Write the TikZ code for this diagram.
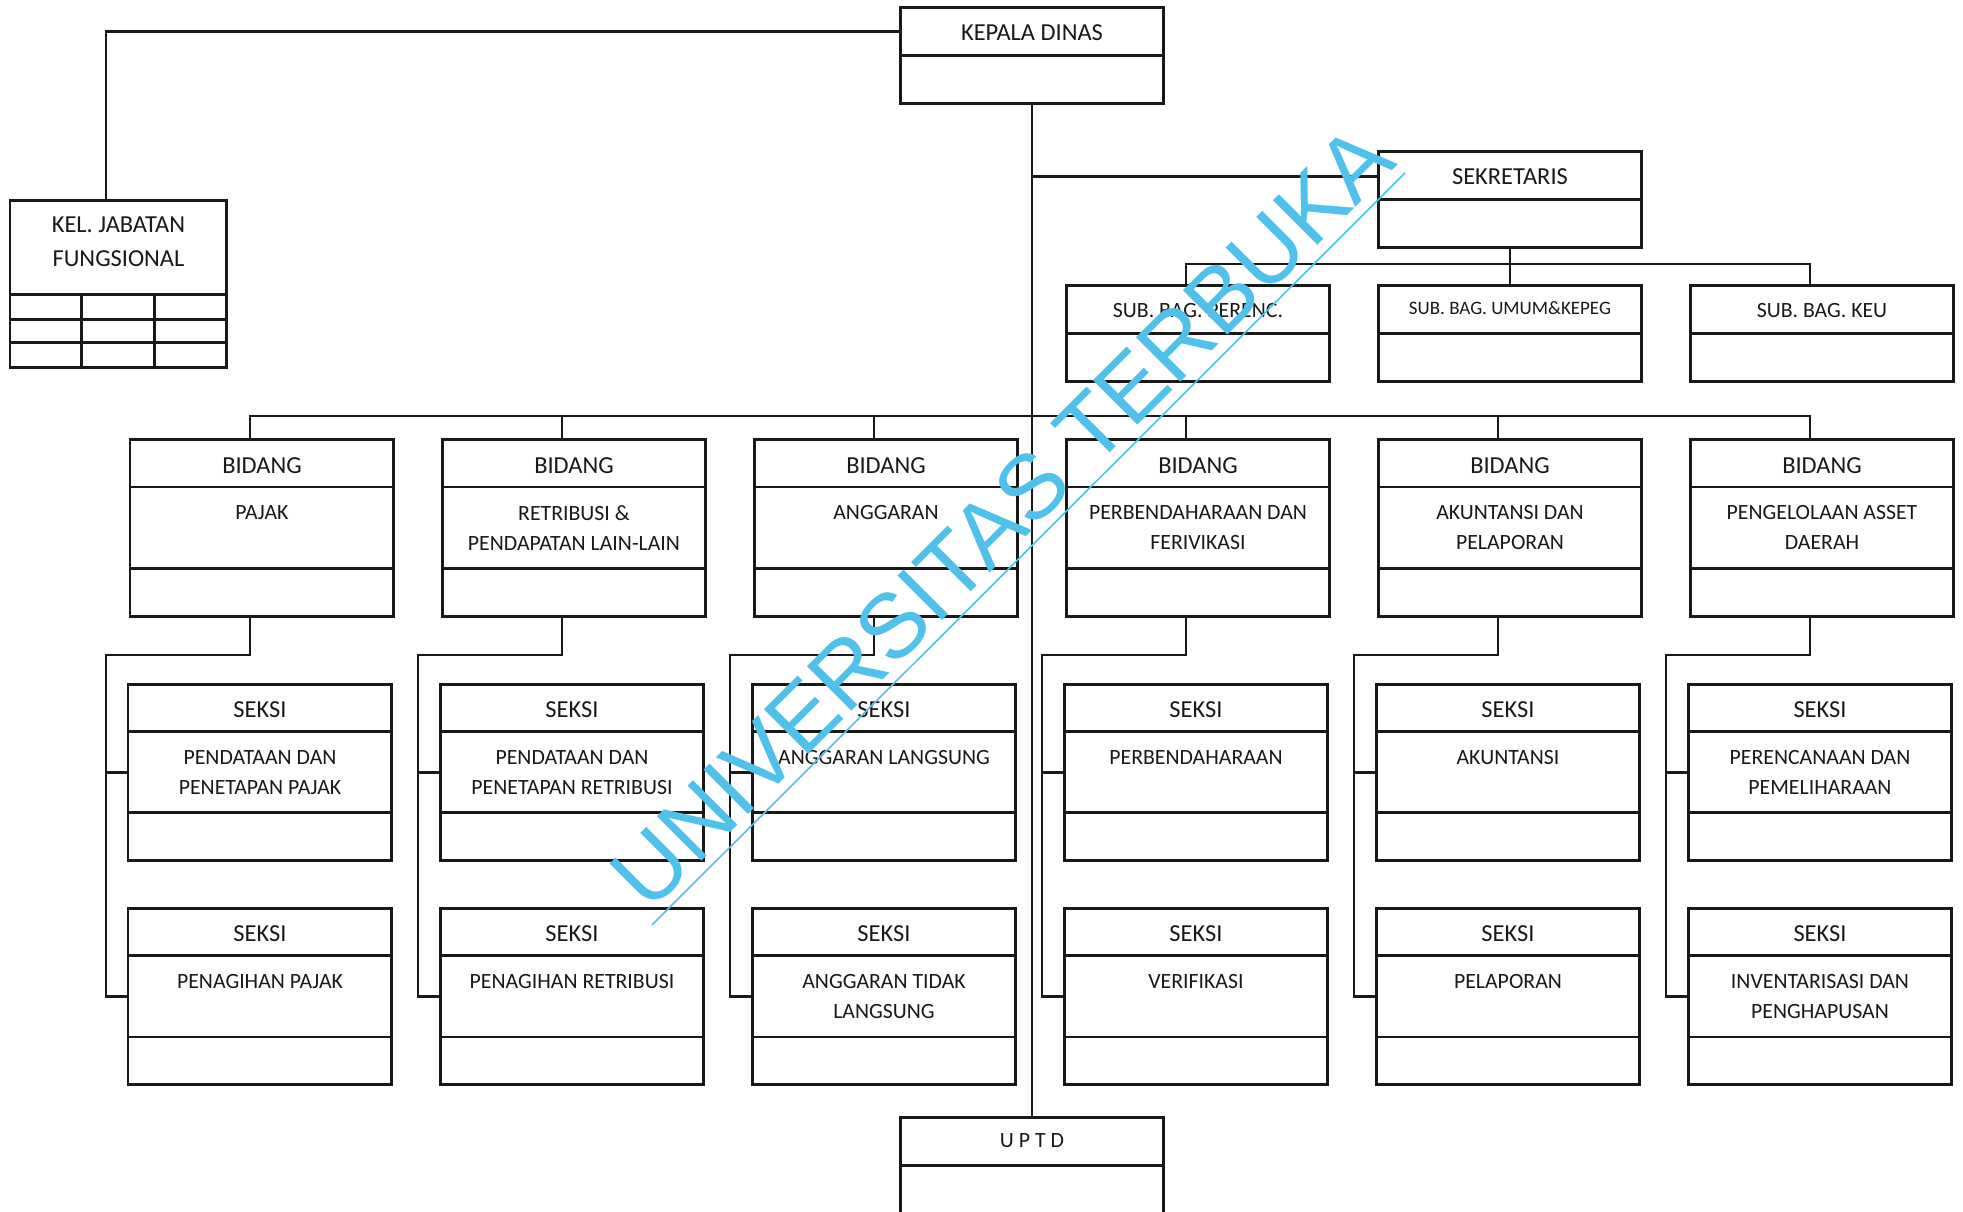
\documentclass[tikz,border=0pt]{standalone}
\usepackage{fontspec}
\setmainfont{Carlito}
\newfontfamily\wmfont{Liberation Sans}
\definecolor{wmblue}{RGB}{79,193,235}
\definecolor{ink}{RGB}{25,25,25}
\tikzset{
  box/.style={draw=ink, line width=1.7pt, rectangle, inner sep=0pt, outer sep=0pt, anchor=north west},
  boxline/.style={draw=ink, line width=1.7pt},
  conn/.style={draw=ink, line width=1.3pt},
  ttl/.style={font=\fontsize{13.9}{16}\selectfont, inner sep=0pt, text=ink},
  bdy/.style={font=\fontsize{12.4}{17}\selectfont, inner sep=0pt, align=center, text=ink},
  wmtext/.style={font=\wmfont\fontsize{52}{56}\selectfont, text=wmblue, inner sep=0pt},
}
% three-section box: name, left, top, title, body
\newcommand{\tribox}[5]{%
  \node[box, minimum width=5.28cm, minimum height=3.54cm] (#1) at (#2,#3) {};
  \draw[boxline] ([yshift=-0.95cm]#1.north west) -- ([yshift=-0.95cm]#1.north east);
  \draw[boxline] ([yshift=-2.58cm]#1.north west) -- ([yshift=-2.58cm]#1.north east);
  \node[ttl] (#1-t) at ([yshift=-0.52cm]#1.north) {#4};
  \node[bdy, anchor=north] (#1-b) at ([yshift=-1.32cm]#1.north) {#5};
}
% two-section box: name, left, top, title, title style
\newcommand{\duobox}[5]{%
  \node[box, minimum width=5.28cm, minimum height=1.93cm] (#1) at (#2,#3) {};
  \draw[boxline] ([yshift=-0.96cm]#1.north west) -- ([yshift=-0.96cm]#1.north east);
  \node[ttl, #5] (#1-t) at ([yshift=-0.51cm]#1.north) {#4};
}
\begin{document}
\begin{tikzpicture}[x=0.02cm, y=-0.02cm]
\useasboundingbox[fill=white] (0,0) rectangle (1963,1211);

% top level
\duobox{kepala}{900}{7.5}{KEPALA DINAS}{}
\duobox{sekr}{1378}{151.5}{SEKRETARIS}{}
\duobox{perenc}{1066}{285.5}{SUB. BAG. PERENC.}{font=\fontsize{12.4}{14}\selectfont}
\duobox{umum}{1378}{285.5}{SUB. BAG. UMUM\&KEPEG}{font=\fontsize{10.8}{13}\selectfont, yshift=0.05cm}
\duobox{keu}{1690}{285.5}{SUB. BAG. KEU}{font=\fontsize{12.4}{14}\selectfont}
\duobox{uptd}{900}{1117}{U P T D}{font=\fontsize{12.4}{14}\selectfont, yshift=0.03cm}

% kelompok jabatan fungsional
\node[box, minimum width=4.34cm, minimum height=3.36cm] (kel) at (10,200) {};
\draw[boxline] ([yshift=-1.9cm]kel.north west) -- ([yshift=-1.9cm]kel.north east);
\draw[boxline] ([yshift=-2.4cm]kel.north west) -- ([yshift=-2.4cm]kel.north east);
\draw[boxline] ([yshift=-2.86cm]kel.north west) -- ([yshift=-2.86cm]kel.north east);
\draw[boxline] ([xshift=1.44cm,yshift=-1.9cm]kel.north west) -- ([xshift=1.44cm]kel.south west);
\draw[boxline] ([xshift=2.9cm,yshift=-1.9cm]kel.north west) -- ([xshift=2.9cm]kel.south west);
\node[ttl, align=center, font=\fontsize{13.9}{19.3}\selectfont] (kel-t) at ([yshift=-0.84cm]kel.north) {KEL. JABATAN\\FUNGSIONAL};

% bidang
\tribox{b1}{130}{439.5}{BIDANG}{PAJAK}
\tribox{b2}{442}{439.5}{BIDANG}{RETRIBUSI \&\\PENDAPATAN LAIN-LAIN}
\tribox{b3}{754}{439.5}{BIDANG}{ANGGARAN}
\tribox{b4}{1066}{439.5}{BIDANG}{PERBENDAHARAAN DAN\\FERIVIKASI}
\tribox{b5}{1378}{439.5}{BIDANG}{AKUNTANSI DAN\\PELAPORAN}
\tribox{b6}{1690}{439.5}{BIDANG}{PENGELOLAAN ASSET\\DAERAH}

% seksi row 1
\tribox{s11}{128}{684}{SEKSI}{PENDATAAN DAN\\PENETAPAN PAJAK}
\tribox{s21}{440}{684}{SEKSI}{PENDATAAN DAN\\PENETAPAN RETRIBUSI}
\tribox{s31}{752}{684}{SEKSI}{ANGGARAN LANGSUNG}
\tribox{s41}{1064}{684}{SEKSI}{PERBENDAHARAAN}
\tribox{s51}{1376}{684}{SEKSI}{AKUNTANSI}
\tribox{s61}{1688}{684}{SEKSI}{PERENCANAAN DAN\\PEMELIHARAAN}
% seksi row 2
\tribox{s12}{128}{908}{SEKSI}{PENAGIHAN PAJAK}
\tribox{s22}{440}{908}{SEKSI}{PENAGIHAN RETRIBUSI}
\tribox{s32}{752}{908}{SEKSI}{ANGGARAN TIDAK\\LANGSUNG}
\tribox{s42}{1064}{908}{SEKSI}{VERIFIKASI}
\tribox{s52}{1376}{908}{SEKSI}{PELAPORAN}
\tribox{s62}{1688}{908}{SEKSI}{INVENTARISASI DAN\\PENGHAPUSAN}

% connectors: kepala
\coordinate (kk) at ([yshift=-0.48cm]kepala.north west);
\draw[conn] (kk) -| ([xshift=1.92cm]kel.north west);
\draw[conn] (kepala.south) -- (kepala.south |- uptd.north);
\coordinate (sk) at ([yshift=-0.5cm]sekr.north west);
\draw[conn] (sk) -- (sk -| kepala.south);
% sekretaris to sub bagian
\draw[conn] (sekr.south) -- (umum.north);
\coordinate (pd) at ([xshift=2.4cm]perenc.north west);
\coordinate (kd) at ([xshift=2.4cm]keu.north west);
\draw[conn] (pd) -- ++(0,-21.5) -| (kd);
% bidang bar
\coordinate (d1) at ([xshift=2.4cm]b1.north west);
\coordinate (d6) at ([xshift=2.4cm]b6.north west);
\draw[conn] (d1) -- ++(0,-23.5) -| (d6);
\foreach \b in {b2,b3,b4,b5}{
  \draw[conn] ([xshift=2.4cm]\b.north west) -- ++(0,-23.5);
}
% bidang to seksi
\foreach \i in {1,...,6}{
  \draw[conn] ([xshift=2.4cm]b\i.south west) -- ++(0,38.5) -| ([xshift=-0.44cm]s\i2.west) -- (s\i2.west);
  \draw[conn] ([xshift=-0.44cm]s\i1.west) -- (s\i1.west);
}

% watermark
\coordinate (wl1) at (652,925);
\coordinate (wl2) at (1405,173);
\draw[wmblue, line width=0.9pt] (wl1) -- (wl2);
\node[wmtext, rotate=45, anchor=base] (wm) at (1024,539) {UNIVERSITAS TERBUKA};
\end{tikzpicture}
\end{document}
